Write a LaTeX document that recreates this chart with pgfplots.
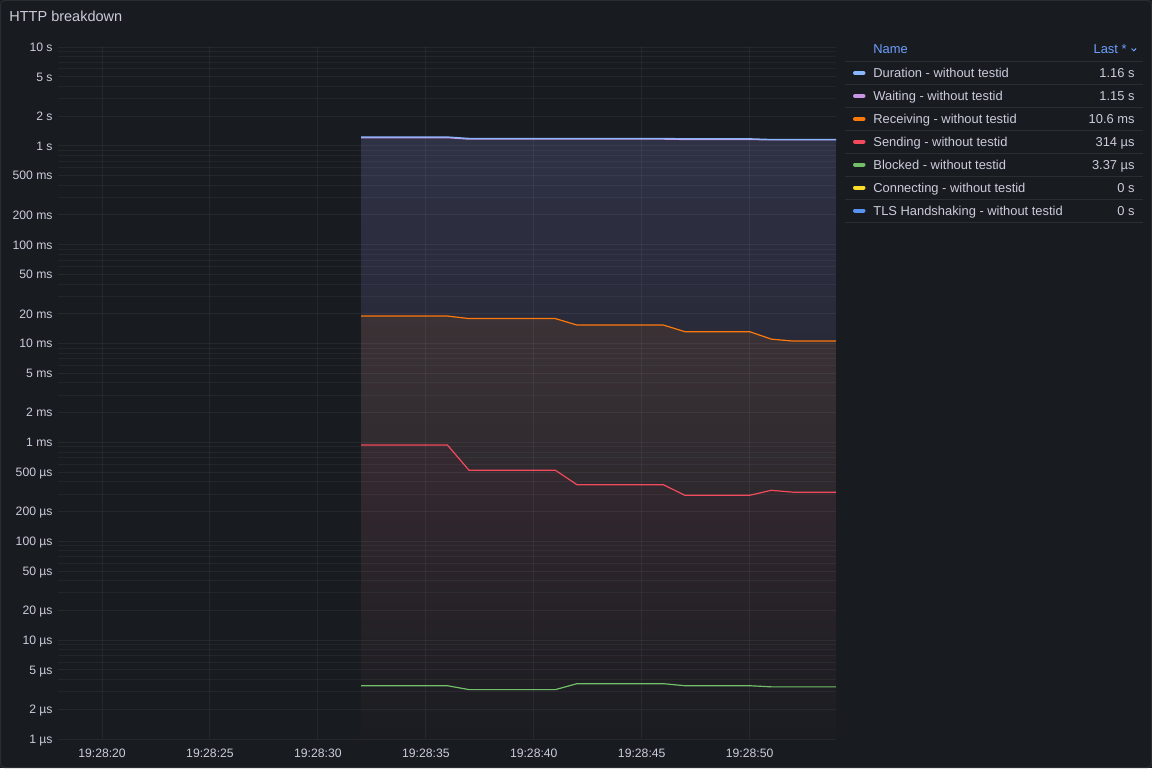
\documentclass[border=0pt]{standalone}
\usepackage{fontspec}
\setmainfont{Liberation Sans}
\usepackage{pgfplots}
\pgfplotsset{compat=1.18}
\usepackage{pgfplotstable}

\definecolor{bg}{HTML}{181B1F}
\definecolor{panelborder}{HTML}{2A2D33}
\definecolor{txt}{HTML}{CCCCDC}
\definecolor{hdr}{HTML}{6E9FFF}
\definecolor{cdur}{HTML}{8AB8FF}
\definecolor{cwait}{HTML}{CA95E5}
\definecolor{crecv}{HTML}{FF780A}
\definecolor{csend}{HTML}{F2495C}
\definecolor{cblk}{HTML}{73BF69}
\definecolor{cconn}{HTML}{FADE2A}
\definecolor{ctls}{HTML}{5794F2}
\definecolor{gridc}{HTML}{CCCCDC}
\definecolor{fdurtop}{HTML}{2F3145}
\definecolor{fdurbot}{HTML}{1B1D23}
\definecolor{frecvtop}{HTML}{3B3236}
\definecolor{frecvbot}{HTML}{1A1C21}
\definecolor{fsendtop}{HTML}{362A31}
\definecolor{fsendbot}{HTML}{1A1C21}

% seconds after 19:28:00, values in seconds
\pgfplotstableread{
t  dur  wait  recv    send    blk
32 1.23 1.21  0.0190  942e-6  3.46e-6
36 1.23 1.21  0.0190  942e-6  3.46e-6
37 1.19 1.17  0.0179  523e-6  3.16e-6
41 1.19 1.17  0.0179  523e-6  3.16e-6
42 1.19 1.17  0.0154  374e-6  3.63e-6
46 1.19 1.17  0.0154  374e-6  3.63e-6
47 1.18 1.16  0.0132  292e-6  3.46e-6
50 1.18 1.16  0.0132  292e-6  3.46e-6
51 1.16 1.15  0.0111  328e-6  3.37e-6
52 1.16 1.15  0.0106  314e-6  3.37e-6
54 1.16 1.15  0.0106  314e-6  3.37e-6
}\httpdata

\begin{document}
\begin{tikzpicture}
\useasboundingbox (0,0) rectangle (576pt,384pt);
\fill[bg] (0,0) rectangle (576pt,384pt);
\draw[panelborder, line width=0.5pt, rounded corners=2pt] (0.25pt,0.25pt) rectangle (575.75pt,383.75pt);

\begin{axis}[
  at={(29pt,14.5pt)}, anchor=south west,
  scale only axis, width=389pt, height=346pt,
  xmin=17.96, xmax=54,
  ymode=log, ymin=1e-6, ymax=10,
  log origin y=infty,
  axis line style={draw=none},
  tick style={draw=none},
  major tick length=0pt, minor tick length=0pt,
  axis on top,
  xtick={20,25,30,35,40,45,50},
  xticklabels={19:28:20,19:28:25,19:28:30,19:28:35,19:28:40,19:28:45,19:28:50},
  ytick={1e-6,2e-6,5e-6,1e-5,2e-5,5e-5,1e-4,2e-4,5e-4,1e-3,2e-3,5e-3,1e-2,2e-2,5e-2,0.1,0.2,0.5,1,2,5,10},
  yticklabels={1 µs,2 µs,5 µs,10 µs,20 µs,50 µs,100 µs,200 µs,500 µs,1 ms,2 ms,5 ms,10 ms,20 ms,50 ms,100 ms,200 ms,500 ms,1 s,2 s,5 s,10 s},
  minor ytick={3e-6,4e-6,6e-6,7e-6,8e-6,9e-6,
               3e-5,4e-5,6e-5,7e-5,8e-5,9e-5,
               3e-4,4e-4,6e-4,7e-4,8e-4,9e-4,
               3e-3,4e-3,6e-3,7e-3,8e-3,9e-3,
               3e-2,4e-2,6e-2,7e-2,8e-2,9e-2,
               0.3,0.4,0.6,0.7,0.8,0.9,
               3,4,6,7,8,9},
  xmajorgrids, ymajorgrids, yminorgrids,
  major grid style={draw=gridc, draw opacity=0.07, line width=0.5pt},
  minor grid style={draw=gridc, draw opacity=0.06, line width=0.5pt},
  ticklabel style={font=\fontsize{6.1}{7}\selectfont, text=txt},
  yticklabel style={anchor=east, inner sep=0pt, xshift=-2.5pt, text height=4.3pt, text depth=0pt},
  xticklabel style={anchor=center, inner sep=0pt, yshift=-7pt, text height=4.3pt, text depth=0pt},
]
\addplot[draw=none, top color=fdurtop, bottom color=fdurbot] table[x=t, y=dur] {\httpdata} \closedcycle;
\addplot[draw=none, top color=frecvtop, bottom color=frecvbot] table[x=t, y=recv] {\httpdata} \closedcycle;
\addplot[draw=none, top color=fsendtop, bottom color=fsendbot] table[x=t, y=send] {\httpdata} \closedcycle;

\addplot[cblk, line width=0.6pt] table[x=t, y=blk] {\httpdata};
\addplot[csend, line width=0.6pt] table[x=t, y=send] {\httpdata};
\addplot[crecv, line width=0.6pt] table[x=t, y=recv] {\httpdata};
\addplot[cwait, line width=0.6pt] table[x=t, y=wait] {\httpdata};
\addplot[cdur, line width=0.6pt] table[x=t, y=dur] {\httpdata};
\end{axis}

\begin{scope}[yshift=384pt, x=0.5pt, y=-0.5pt]
  \node[anchor=west, inner sep=0pt, text=txt, font=\fontsize{7.25}{8}\selectfont, text height=5.2pt, text depth=0pt] at (9,16) {HTTP breakdown};

  % legend table
  \tikzset{lgtxt/.style={inner sep=0pt, text=txt, font=\fontsize{6.45}{7.5}\selectfont, text height=4.6pt, text depth=0pt}}
  \node[lgtxt, anchor=west, text=hdr] at (873,49) {Name};
  \node[lgtxt, anchor=east, text=hdr] at (1127,49) {Last *};
  \draw[hdr, line width=0.5pt] (1131.5,48.5) -- (1133.8,50.8) -- (1136.1,48.5);
  \foreach \yy in {61.5,84.5,107.5,130.5,153.5,176.5,199.5,222.5}
    \draw[panelborder, line width=0.5pt] (845,\yy) -- (1143,\yy);
  \foreach \yy/\cc/\name/\val in {
      73/cdur/Duration - without testid/1.16 s,
      96/cwait/Waiting - without testid/1.15 s,
      119/crecv/Receiving - without testid/10.6 ms,
      141.5/csend/Sending - without testid/314 µs,
      164.5/cblk/Blocked - without testid/3.37 µs,
      187.5/cconn/Connecting - without testid/0 s,
      210.5/ctls/TLS Handshaking - without testid/0 s} {
    \draw[\cc, line width=2pt, line cap=round] (855,\yy) -- (863.5,\yy);
    \node[lgtxt, anchor=west] at (873,\yy) {\name};
    \node[lgtxt, anchor=east] at (1135,\yy) {\val};
  }
\end{scope}
\end{tikzpicture}
\end{document}
